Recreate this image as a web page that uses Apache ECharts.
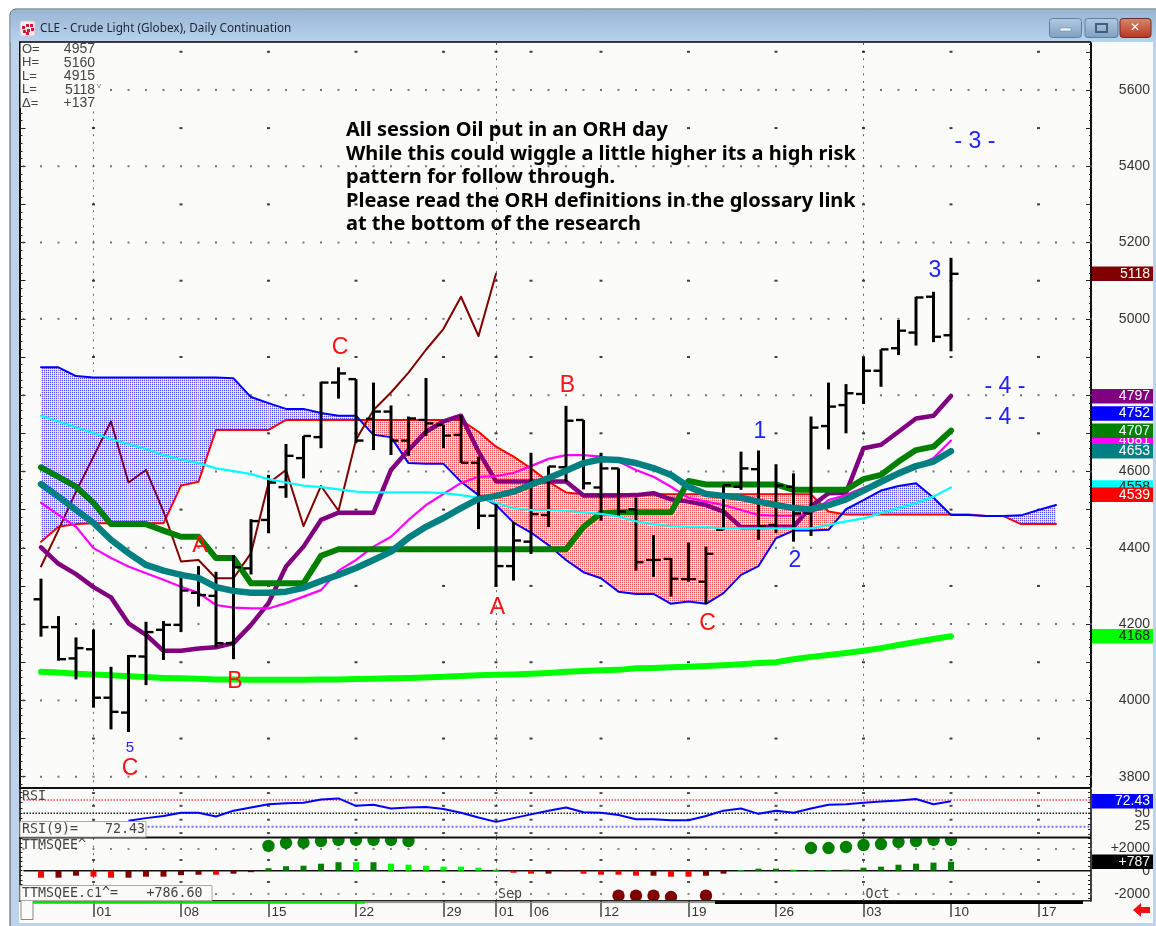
<!DOCTYPE html>
<html><head><meta charset="utf-8">
<style>html,body{margin:0;padding:0;background:#fff;}#c{width:1156px;height:926px;}</style>
<script src="https://cdn.jsdelivr.net/npm/echarts@6/dist/echarts.min.js"></script>
</head><body><div id="c"></div>
<script>
// ---- dates (first one is an empty lead-in slot on the axis, last ones are the empty future)
const dates = ['07-26','07-27','07-28','07-29',
 '08-01','08-02','08-03','08-04','08-05','08-08','08-09','08-10','08-11','08-12',
 '08-15','08-16','08-17','08-18','08-19','08-22','08-23','08-24','08-25','08-26',
 '08-29','08-30','08-31','09-01','09-02','09-06','09-07','09-08','09-09',
 '09-12','09-13','09-14','09-15','09-16','09-19','09-20','09-21','09-22','09-23',
 '09-26','09-27','09-28','09-29','09-30','10-03','10-04','10-05','10-06','10-07',
 '10-10','10-11','10-12','10-13','10-14','10-17','10-18','10-19','10-20'];
const tickDates = ['08-01','08-08','08-15','08-22','08-29','09-01','09-06','09-12','09-19','09-26','10-03','10-10','10-17'];
const monthLines = ['08-01','09-01','10-03'];
const priceLabels = [3800,4000,4200,4400,4600,4800,5000,5200,5400,5600];
const priceHundreds = [5700,5500,5300,5100,4900,4700,4500,4300,4100,3900];
// ---- price bars (one entry per session from 07-27 to 10-10)
const opens  = [4265,4192,4110,4134,4007,3968,4115,4185,4198,4282,4274,4150,4346,4473,4559,4635,4690,4833,4842,4738,4757,4681,4735,4722,4696,4623,4484,4352,4416,4486,4611,4735,4558,4608,4501,4368,4371,4318,4311,4447,4560,4606,4460,4560,4490,4719,4774,4803,4864,4923,4964,5058,4957];
const highs  = [4319,4221,4165,4186,4088,4119,4206,4208,4337,4352,4337,4381,4475,4591,4672,4693,4835,4873,4842,4833,4773,4744,4845,4722,4748,4639,4517,4468,4649,4613,4772,4735,4649,4608,4532,4433,4373,4414,4403,4564,4652,4655,4619,4595,4744,4833,4829,4899,4920,4997,5058,5071,5160];
const lows   = [4167,4104,4055,3981,3924,3917,4040,4106,4179,4246,4139,4108,4330,4438,4531,4582,4661,4791,4674,4656,4643,4641,4693,4661,4622,4449,4298,4314,4384,4454,4573,4553,4471,4482,4340,4323,4272,4311,4253,4447,4552,4421,4438,4416,4431,4658,4700,4777,4822,4905,4930,4939,4915];
const closes = [4192,4108,4137,4007,3970,4116,4179,4198,4288,4276,4150,4349,4470,4571,4641,4693,4833,4857,4681,4757,4681,4739,4726,4694,4623,4484,4352,4419,4488,4613,4733,4569,4608,4495,4362,4368,4319,4318,4384,4564,4608,4457,4563,4490,4715,4770,4805,4864,4920,4969,5056,4953,5118];
// ---- overlays
const limeAvg = [4075,4073,4070,4068,4066,4063,4061,4059,4058,4057,4055,4055,4054,4054,4054,4054,4055,4055,4056,4057,4058,4059,4060,4062,4064,4066,4067,4068,4070,4072,4075,4077,4079,4080,4084,4085,4087,4088,4090,4092,4095,4098,4100,4108,4114,4119,4124,4130,4137,4145,4153,4161,4168];
const tealAvg = [4567,4534,4499,4465,4421,4386,4355,4340,4329,4321,4297,4287,4282,4282,4285,4295,4313,4329,4347,4368,4390,4426,4455,4478,4504,4528,4536,4547,4565,4583,4602,4622,4632,4630,4622,4609,4591,4560,4541,4536,4531,4521,4512,4504,4501,4512,4527,4550,4573,4595,4614,4626,4653];
const greenAvg = [4611,4586,4560,4518,4462,4462,4462,4445,4429,4429,4373,4373,4307,4307,4307,4307,4379,4396,4396,4396,4396,4396,4396,4396,4396,4396,4396,4396,4396,4396,4396,4455,4491,4493,4493,4493,4493,4575,4566,4566,4566,4566,4566,4552,4552,4552,4552,4580,4591,4626,4656,4665,4707];
const purpleAvg = [4401,4358,4331,4297,4270,4202,4172,4130,4130,4136,4139,4150,4198,4255,4351,4403,4473,4492,4492,4492,4604,4656,4704,4731,4746,4652,4574,4574,4574,4574,4574,4537,4537,4537,4538,4543,4527,4521,4512,4495,4454,4454,4455,4455,4508,4543,4544,4661,4670,4704,4739,4746,4798];
const magentaAvg = [4518,4486,4455,4399,4373,4351,4333,4316,4298,4282,4250,4243,4241,4241,4255,4272,4289,4340,4368,4403,4429,4473,4512,4541,4570,4586,4588,4596,4614,4633,4643,4643,4639,4626,4604,4586,4560,4531,4521,4512,4499,4486,4484,4484,4491,4525,4538,4557,4570,4596,4613,4635,4681];
const cyanAvg = [4746,4731,4716,4701,4685,4672,4659,4643,4632,4622,4608,4601,4593,4580,4571,4563,4559,4553,4547,4545,4545,4545,4545,4543,4538,4531,4518,4504,4499,4499,4497,4493,4489,4482,4469,4462,4457,4455,4454,4451,4451,4451,4451,4451,4451,4460,4469,4477,4491,4504,4517,4534,4558];
const laggingLine = [4351,4447,4547,4639,4731,4571,4604,4495,4364,4368,4320,4320,4386,4569,4604,4457,4562,4497,4683,4761,4807,4859,4919,4974,5058,4955,5118];
const cloudBlue = [4873,4873,4850,4846,4846,4846,4846,4846,4846,4846,4846,4844,4795,4779,4764,4764,4753,4746,4746,4696,4690,4622,4620,4620,4573,4538,4512,4466,4440,4407,4368,4336,4320,4285,4279,4279,4253,4259,4253,4281,4329,4352,4425,4445,4445,4447,4501,4525,4550,4562,4569,4531,4486,4486,4483,4483,4485,4499,4512];
const cloudRed = [4416,4455,4462,4464,4464,4464,4464,4464,4563,4573,4709,4709,4709,4709,4735,4735,4735,4735,4735,4735,4735,4735,4735,4735,4735,4704,4665,4639,4608,4573,4545,4540,4540,4540,4540,4540,4540,4540,4540,4540,4540,4540,4540,4540,4540,4495,4487,4487,4487,4487,4487,4487,4487,4487,4483,4483,4462,4462,4462];
// ---- RSI pane
const rsiValues = [null,null,null,null,null,36,41,45,51,51,44,55,61,67,69,70,76,78,64,66,59,61,62,58,51,42,34,41,48,55,61,52,51,47,39,39,37,37,45,55,59,49,55,51,59,66,67,70,72,74,77,67,72.43];
const rsiLevels = [75,50,25];
const rsiLabels = [50,25];
const rsiDotRows = [88,64,38,13];
// ---- squeeze pane
const histValues = [-610,-610,-435,-520,-610,-610,-520,-520,-390,-350,-350,-260,-130,220,390,435,610,740,740,740,610,520,435,350,350,260,87,-175,-260,-260,-45,-260,-350,-350,-435,-435,-520,-520,-435,-260,45,175,175,87,45,45,87,260,350,520,610,700,787];
const histTones  = ['R','D','D','R','R','D','D','D','D','D','R','D','D','G','G','G','G','G','L','G','L','L','L','L','L','L','L','R','R','D','R','R','R','R','R','D','R','R','D','D','L','G','G','L','L','L','G','G','G','G','G','G','G'];
const squeezeOnIdx = [13,14,15,16,17,18,19,20,21,44,45,46,47,48,49,50,51,52];
const squeezeOnVal = [2150,2410,2435,2580,2670,2670,2670,2670,2580,1970,1970,2060,2235,2320,2495,2580,2670,2670];
const squeezeOffIdx = [33,34,35,36,38];
const squeezeOffVal = [-2170,-2170,-2170,-2290,-2170];
const squeezeDotRows = [1890,-2020];
const squeezeWeekRows = [930,-980];
// ---- annotations on the price pane (session index from 07-27, price, text, tone)
const noteIdx   = [5,5,11,9,17,26,30,38,41,43,51,55,55,53];
const notePrice = [3825,3878,4053,4407,4926,4245,4827,4203,4706,4368,5128,4825,4744,5466];
const noteText  = ['C','5','B','A','C','A','B','C','1','2','3','- 4 -','- 4 -','- 3 -'];
const noteTone  = ['r','b','r','r','r','r','r','r','b','b','b','b','b','b'];
// ---- value tags on the right
const tagValues = [5118,4681,4797,4752,4707,4653,4558,4539,4168];
const tagTexts  = ['5118','4681','4797','4752','4707','4653','4558','4539','4168'];
const tagNames  = ['close','magenta','purple','blue','green','teal','cyan','red','lime'];
const rsiTagValue = 72.43, rsiTagText = '72.43';
const sqzTagValue = 786.6, sqzTagText = '+787';
// ---- readouts
const headerLabels = ['O=','H=','L=','L=','\u0394='];
const headerValues = ['4957','5160','4915','5118','+137'];
const commentary = ['All session Oil put in an ORH day',
 'While this could wiggle a little higher its a high risk',
 'pattern for follow through.',
 'Please read the ORH definitions in the glossary link',
 'at the bottom of the research'];

// ---- styling
const C = {close:'#800000',magenta:'#ff00ff',purple:'#800080',blue:'#0000ff',green:'#008000',teal:'#008080',cyan:'#00ffff',red:'#ff0000',lime:'#00ff00'};
const toneColor = {R:'#ff0000',D:'#800000',G:'#008000',L:'#00ff00'};
const noteColor = {r:'#ff1010',b:'#2222ff'};
const mono = '"DejaVu Sans Mono",monospace';
const sans = '"Liberation Sans",Arial,sans-serif';

function dither(color,soft){
  const c=document.createElement('canvas');c.width=2;c.height=2;
  const x=c.getContext('2d');x.fillStyle='#fdfdfb';x.fillRect(0,0,2,2);
  x.fillStyle=soft;x.fillRect(1,0,1,1);x.fillRect(0,1,1,1);
  x.fillStyle=color;x.fillRect(0,0,1,1);return c;
}
const blueFill={image:dither('#5050ff','#d4d4ff'),repeat:'repeat'}, redFill={image:dither('#ff5050','#ffcccc'),repeat:'repeat'};

const ci = i => i+1;                    // session index -> category slot
const pad = a => [null,...a];
const isTick = (i)=>tickDates.includes(dates[i]);
const isMonth = (i)=>monthLines.includes(dates[i]);

function xAxis(g,labels){
  return {type:'category',gridIndex:g,data:dates,boundaryGap:false,
    axisLine:{show:false,onZero:false},
    axisTick:labels?{show:true,length:16,interval:(i)=>isTick(i),lineStyle:{color:'#444',width:1.5}}:{show:false},
    axisLabel:labels?{show:true,interval:(i)=>isTick(i),formatter:v=>v.slice(3),align:'left',margin:4,padding:[0,0,0,3],color:'#333',fontFamily:sans,fontSize:13.5,verticalAlign:'top',hideOverlap:false}:{show:false},
    splitLine:{show:true,interval:(i)=>isMonth(i),lineStyle:{color:'#666',type:[2,5.6],width:1}}};
}
const yAxes=[];
function yAxis(g,pos,min,max,ticks,len,labels,fmt){
  yAxes.push({type:'value',gridIndex:g,position:pos,min,max,offset:pos==='left'?4:0,
    splitLine:{show:false},
    axisLine:{show:true,onZero:false,lineStyle:{color:'#000',width:1.5}},
    axisTick:{show:!!ticks,inside:true,length:len,customValues:ticks||undefined,lineStyle:{color:'#222',width:1}},
    axisLabel:labels?{show:true,customValues:labels,inside:false,margin:59,align:'right',showMinLabel:true,showMaxLabel:true,hideOverlap:false,color:'#333',fontFamily:sans,fontSize:14,formatter:fmt||(v=>String(v))}:{show:false}});
  return yAxes.length-1;
}
const PMIN=3773,PMAX=5723,RMIN=5.6,RMAX=95.6,SMIN=-2635,SMAX=2843;
const tick20=[];for(let v=3780;v<=5720;v+=20)tick20.push(v);
const tick100=[];for(let v=3800;v<=5700;v+=100)tick100.push(v);
const yP=yAxis(0,'right',PMIN,PMAX,tick100,5,priceLabels);
yAxis(0,'right',PMIN,PMAX,tick20,2);
yAxis(0,'left',PMIN,PMAX,tick100,6);
yAxis(0,'left',PMIN,PMAX,tick20,3);
const yR=yAxis(1,'right',RMIN,RMAX,[10,20,30,40,50,60,70,80,90],3);
yAxis(1,'left',RMIN,RMAX,[10,20,30,40,50,60,70,80,90],3);
const tickS=[];for(let v=-2400;v<=2800;v+=400)tickS.push(v);
const yS=yAxis(2,'right',SMIN,SMAX,tickS,3,[-2000,0,2000],v=>v>0?'+'+v:String(v));
yAxis(2,'left',SMIN,SMAX,tickS,3);

const line=(name,vals,color,w,z)=>({name,type:'line',xAxisIndex:0,yAxisIndex:yP,data:pad(vals),symbol:'none',silent:true,z,
  lineStyle:{color,width:w,cap:'round',join:'round'},connectNulls:false,animation:false});

const dotGrid=[];
priceLabels.forEach(p=>dates.forEach((d,i)=>dotGrid.push([i,p])));
const dotWeek=[];
priceHundreds.forEach(p=>dates.forEach((d,i)=>{if(isTick(i))dotWeek.push([i,p]);}));
const rsiDots=[];rsiDotRows.forEach(p=>dates.forEach((d,i)=>{if(isTick(i))rsiDots.push([i,p]);}));
const sqDots=[];squeezeDotRows.forEach(p=>dates.forEach((d,i)=>sqDots.push([i,p])));
const sqWeek=[];squeezeWeekRows.forEach(p=>dates.forEach((d,i)=>{if(isTick(i))sqWeek.push([i,p]);}));
const dots=(data,x,y,size,color)=>({type:'scatter',xAxisIndex:x,yAxisIndex:y,data,symbol:'rect',symbolSize:size,itemStyle:{color},silent:true,z:1,animation:false});

function cloudItem(params,api){
  const i=params.dataIndex;
  if(i>=cloudBlue.length-1) return;
  const b0=api.coord([ci(i),cloudBlue[i]]),b1=api.coord([ci(i+1),cloudBlue[i+1]]),r0=api.coord([ci(i),cloudRed[i]]),r1=api.coord([ci(i+1),cloudRed[i+1]]);
  const d0=cloudBlue[i]-cloudRed[i],d1=cloudBlue[i+1]-cloudRed[i+1];
  const poly=(pts,fill)=>({type:'polygon',shape:{points:pts},style:{fill}});
  if(d0*d1>=0){return poly([b0,b1,r1,r0],(d0+d1)>=0?blueFill:redFill);}
  const t=d0/(d0-d1);const m=[b0[0]+(b1[0]-b0[0])*t,b0[1]+(b1[1]-b0[1])*t];
  return {type:'group',children:[poly([b0,m,r0],d0>0?blueFill:redFill),poly([m,b1,r1],d1>0?blueFill:redFill)]};
}
function barItem(params,api){
  const i=params.dataIndex,x=ci(i);
  const H=api.coord([x,highs[i]]),L=api.coord([x,lows[i]]),O=api.coord([x,opens[i]]),K=api.coord([x,closes[i]]);
  const st={stroke:'#000',lineWidth:2.4};
  return {type:'group',children:[
    {type:'line',shape:{x1:H[0],y1:H[1],x2:L[0],y2:L[1]},style:{stroke:'#000',lineWidth:3}},
    {type:'line',shape:{x1:O[0]-7.5,y1:O[1],x2:O[0],y2:O[1]},style:st},
    {type:'line',shape:{x1:K[0],y1:K[1],x2:K[0]+7.5,y2:K[1]},style:st}]};
}
function tagItem(text,fill,ink,value,params,api){
  const y=api.coord([0,value])[1],x=params.coordSys.x+params.coordSys.width+1;
  return {type:'group',children:[
    {type:'rect',shape:{x,y:y-7.25,width:61,height:14.5},style:{fill}},
    {type:'text',style:{text,x:x+58,y,fill:ink,font:'14px '+sans,align:'right',verticalAlign:'middle'}}]};
}
function tagSeries(x,y,vals,texts,fills,inks){
  return {type:'custom',xAxisIndex:x,yAxisIndex:y,data:vals.map((v,i)=>[0,v]),silent:true,z:20,clip:false,animation:false,
    renderItem:(p,api)=>tagItem(texts[p.dataIndex],fills[p.dataIndex],inks[p.dataIndex],vals[p.dataIndex],p,api)};
}
function dotSeries(idx,vals,color){
  return {type:'custom',xAxisIndex:2,yAxisIndex:yS,data:idx.map((k,i)=>[ci(k),vals[i]]),clip:true,silent:true,z:5,animation:false,
    renderItem:(p,api)=>{const c=api.coord([ci(idx[p.dataIndex]),vals[p.dataIndex]]);
      return {type:'circle',shape:{cx:c[0],cy:c[1],r:6.2},style:{fill:color}};}};
}

const series=[
 dots(dotGrid,0,yP,2,'#555'),
 dots(dotWeek,0,yP,[3,2],'#111'),
 dots(rsiDots,1,yR,[3,2],'#222'),
 dots(sqDots,2,yS,2,'#666'),
 dots(sqWeek,2,yS,[3,2],'#222'),
 {type:'custom',name:'cloud',xAxisIndex:0,yAxisIndex:yP,data:cloudBlue.map((v,i)=>[ci(i),v,cloudRed[i]]),renderItem:cloudItem,silent:true,z:2,animation:false},
 line('cloud red',cloudRed,C.red,2,3),
 line('cloud blue',cloudBlue,C.blue,2,3),
 line('lime',limeAvg,C.lime,6,4),
 line('lagging',laggingLine,C.close,2,4),
 line('purple',purpleAvg,C.purple,4.5,4),
 line('magenta',magentaAvg,C.magenta,2.2,4),
 line('green',greenAvg,C.green,6,4),
 {type:'custom',name:'CLE',xAxisIndex:0,yAxisIndex:yP,data:closes.map((v,i)=>[ci(i),opens[i],highs[i],lows[i],v]),renderItem:barItem,silent:true,z:5,animation:false},
 line('cyan',cyanAvg,C.cyan,2.2,6),
 line('teal',tealAvg,C.teal,6.5,7),
 {type:'custom',name:'notes',xAxisIndex:0,yAxisIndex:yP,data:noteIdx.map((k,i)=>[ci(k),notePrice[i]]),silent:true,z:9,clip:false,animation:false,
  renderItem:(p,api)=>{const i=p.dataIndex,c=api.coord([ci(noteIdx[i]),notePrice[i]]);
    const small=noteText[i]==='5';
    const dx=noteText[i]==='- 3 -'?6.5:1.5;
    return {type:'text',style:{text:noteText[i],x:c[0]+dx,y:c[1]+1,fill:noteColor[noteTone[i]],font:(small?'15px ':'23px ')+sans,align:'center',verticalAlign:'middle'}};}},
 tagSeries(0,yP,tagValues,tagTexts,tagNames.map(n=>C[n]),tagNames.map(n=>n==='lime'?'#222':(n==='cyan'?'#222':'#fff'))),
 ...rsiLevels.map((lv,k)=>({type:'line',xAxisIndex:1,yAxisIndex:yR,data:dates.map(()=>lv),symbol:'none',silent:true,z:2,animation:false,
   lineStyle:{type:'dotted',width:k===2?2:1.5,color:['#ff5050','#222','#7070ff'][k]}})),
 {type:'line',name:'RSI',xAxisIndex:1,yAxisIndex:yR,data:pad(rsiValues),symbol:'none',silent:true,z:4,animation:false,lineStyle:{color:'#0000ff',width:2}},
 {type:'custom',name:'rsi scale',xAxisIndex:1,yAxisIndex:yR,data:rsiLabels.map(v=>[0,v]),silent:true,z:10,clip:false,animation:false,
  renderItem:(p,api)=>{const v=rsiLabels[p.dataIndex],y=api.coord([0,v])[1],x=p.coordSys.x+p.coordSys.width+59;
    return {type:'text',style:{text:String(v),x,y:y-0.5,fill:'#333',font:'14px '+sans,align:'right',verticalAlign:'middle'}};}},
 tagSeries(1,yR,[rsiTagValue],[rsiTagText],['#0000ff'],['#fff']),
 {type:'line',name:'zero',xAxisIndex:2,yAxisIndex:yS,data:dates.map(()=>0),symbol:'none',silent:true,z:2,animation:false,lineStyle:{color:'#111',width:1.5}},
 {type:'bar',name:'TTMSQEE',xAxisIndex:2,yAxisIndex:yS,barWidth:6,silent:true,z:3,animation:false,
  data:pad(histValues.map((v,i)=>({value:v,itemStyle:{color:toneColor[histTones[i]]}})))},
 dotSeries(squeezeOnIdx,squeezeOnVal,'#008000'),
 dotSeries(squeezeOffIdx,squeezeOffVal,'#800000'),
 tagSeries(2,yS,[sqzTagValue],[sqzTagText],['#000'],['#fff']),
 {type:'custom',name:'months',xAxisIndex:2,yAxisIndex:yS,data:[[27,-2100],[48,-2100]],silent:true,z:6,clip:false,animation:false,
  renderItem:(p,api)=>{const c=api.coord([p.dataIndex?48:27,-2050]);
    return {type:'text',style:{text:p.dataIndex?'Oct':'Sep',x:c[0]+2,y:c[1],fill:'#444',font:'13.3px '+mono,align:'left',verticalAlign:'middle'}};}}
];

// window chrome and read-outs
const g=[];
const T=(text,x,y,font,fill,extra)=>g.push(Object.assign({type:'text',z:100,style:{text,x,y,font,fill,verticalAlign:'middle',align:'left'}},extra||{}));
g.push({type:'rect',z:-10,shape:{x:10,y:9,width:1200,height:1000,r:[6,0,0,0]},style:{fill:'#bcd3ea',stroke:'#555',lineWidth:1}});
g.push({type:'rect',z:-9,shape:{x:10.5,y:9.5,width:1200,height:33,r:[6,0,0,0]},style:{fill:{type:'linear',x:0,y:0,x2:0,y2:1,colorStops:[{offset:0,color:'#98b5d3'},{offset:1,color:'#b8d3ee'}]}}});
g.push({type:'rect',z:-9,shape:{x:19,y:42,width:1134,height:881},style:{fill:'#fbfbf9'}});
// title icon
g.push({type:'rect',z:5,shape:{x:20,y:21,width:15,height:15,r:2},style:{fill:'#f4eeee',stroke:'#c9c9d4',lineWidth:1}});
[[22,26],[26,24],[30,24],[23,30],[27,29],[31,28],[26,32]].forEach(p=>g.push({type:'rect',z:6,shape:{x:p[0],y:p[1],width:3,height:3},style:{fill:'#c81c3a'}}));
T('CLE - Crude Light (Globex), Daily Continuation',40,28.5,'11.75px "Noto Sans",sans-serif','#1b2430');
// window buttons
const btn=(x,w,top,bot,stroke)=>g.push({type:'rect',z:5,shape:{x,y:18.5,width:w,height:19,r:3},style:{fill:{type:'linear',x:0,y:0,x2:0,y2:1,colorStops:[{offset:0,color:top},{offset:1,color:bot}]},stroke,lineWidth:1}});
btn(1049.5,32,'#b3cbe3','#7f9fbf','#5f7f9f');btn(1085,33,'#b3cbe3','#7f9fbf','#5f7f9f');btn(1120,31,'#d98a70','#b8341c','#6e2a2a');
g.push({type:'rect',z:6,shape:{x:1060,y:28,width:11,height:3},style:{fill:'#eef4fa',stroke:'#5f7f9f',lineWidth:.5}});
g.push({type:'rect',z:6,shape:{x:1096,y:24,width:11,height:8},style:{fill:'transparent',stroke:'#3f5f7f',lineWidth:2}});
T('\u2715',1130,28,'bold 12px "DejaVu Sans"','#fff');
// pane frames
const hl=(y,x1,x2,w,color)=>g.push({type:'line',z:50,shape:{x1,y1:y,x2,y2:y},style:{stroke:color,lineWidth:w}});
hl(42,19,1091,1.5,'#000');hl(788,19,1091,2,'#111');hl(837.5,19,1091,2,'#111');hl(900.8,19,1091,1.5,'#222');
// scroll strip
hl(902.6,33,365,2.5,'#00e000');hl(902.6,365,715,1,'#888');hl(902.6,715,1083,3,'#000');
g.push({type:'rect',z:60,shape:{x:21,y:899.5,width:12,height:20},style:{fill:'#fbfbf9',stroke:'#888',lineWidth:1}});
// header read-out
g.push({type:'rect',z:90,shape:{x:20.5,y:43,width:81,height:65},style:{fill:'#fbfbf9'}});
headerLabels.forEach((t,i)=>{const y=49.5+i*13.4;
  T(t,22,y,'13px '+sans,'#444');
  T(headerValues[i],95,y,'14px '+sans,'#444',{style:{text:headerValues[i],x:95,y,font:'14px '+sans,fill:'#444',align:'right',verticalAlign:'middle'}});});
T('v',97,86,'8px '+sans,'#777');
// pane captions
g.push({type:'rect',z:90,shape:{x:20,y:821.5,width:126,height:15.5},style:{fill:'#fbfbf9',stroke:'#aaa',lineWidth:1}});
T('RSI',22,797,'13.3px '+mono,'#444');
T('RSI(9)=',22,830,'13.3px '+mono,'#444');
T('72.43',105,830,'13.3px '+mono,'#444');
g.push({type:'rect',z:90,shape:{x:20,y:885.5,width:192,height:15},style:{fill:'#fbfbf9',stroke:'#aaa',lineWidth:1}});
T('TTMSQEE^',22,846,'13.3px '+mono,'#444');
T('TTMSQEE.c1^=',22,894,'13.3px '+mono,'#444');
T('+786.60',146.5,894,'13.3px '+mono,'#444');
// commentary
[130,154,177,201,224].forEach((y,i)=>T(commentary[i],346,y,'bold 20px "Noto Sans",sans-serif','#000'));
// red arrow
g.push({type:'polygon',z:60,shape:{points:[[1133,910],[1141,903],[1141,907],[1150,907],[1150,913],[1141,913],[1141,917]]},style:{fill:'#ee1111'}});

const chart=echarts.init(document.getElementById('c'),null,{renderer:'canvas'});
chart.setOption({
  animation:false,backgroundColor:'#ffffff',
  grid:[{left:23.5,right:65,top:43,height:744},{left:23.5,right:65,top:789,height:48},{left:23.5,right:65,top:838,height:63}],
  xAxis:[xAxis(0,false),xAxis(1,false),xAxis(2,true)],
  yAxis:yAxes,series,graphic:{elements:g}
});
</script></body></html>
